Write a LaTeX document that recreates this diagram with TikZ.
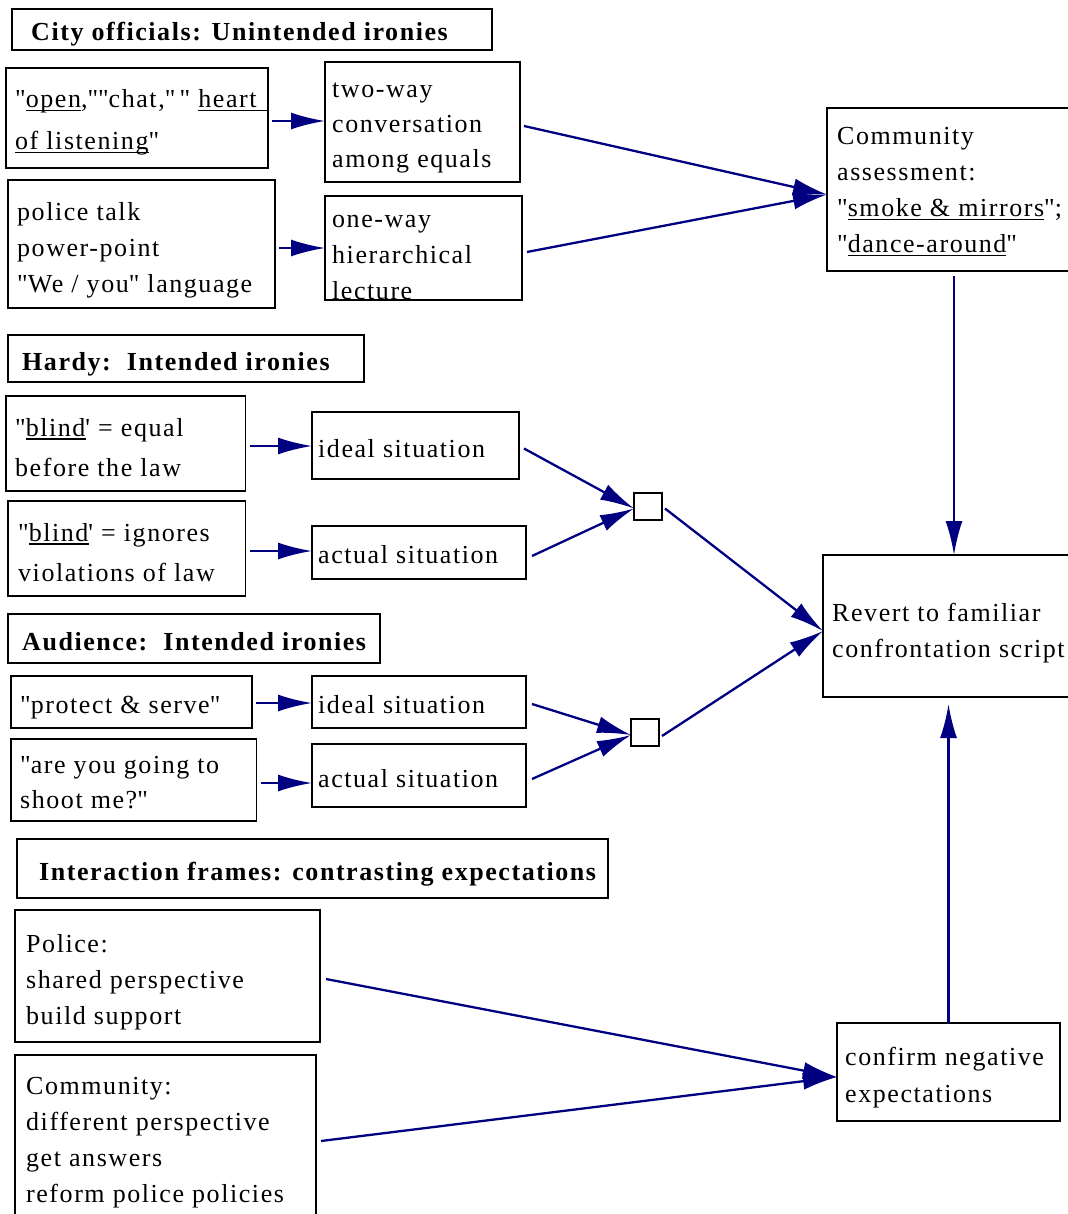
\documentclass[tikz,border=0pt]{standalone}
\usepackage{fontspec}
\setmainfont[LetterSpace=6]{Liberation Serif}
\usetikzlibrary{arrows.meta,calc}
\definecolor{navyc}{RGB}{0,0,128}
\newcommand\myul[1]{\setbox0\hbox{#1}\rlap{\rule[-3.5pt]{\wd0}{1.1pt}}\box0}
\newcommand\qq{\textquotedbl}
\begin{document}
\begin{tikzpicture}[x=1pt,y=-1pt,
  bx/.style={draw=black, line width=1.9pt, anchor=north west, inner sep=0pt, outer sep=0pt},
  tx/.style={anchor=base west, inner sep=0pt, align=left, font=\fontsize{26}{36}\selectfont},
  ttl/.style={anchor=base west, inner sep=0pt, align=left, font=\fontsize{26}{36}\selectfont\bfseries},
  jn/.style={draw=black, line width=1.9pt, minimum width=28pt, minimum height=27pt, inner sep=0pt, outer sep=0pt, anchor=north west},
  arr/.style={draw=navyc, line width=2.3pt, -{Latex[length=34pt,width=17pt]}},
]
\useasboundingbox (0,0) rectangle (1067,1214);

% City officials
\node[bx, minimum width=480pt, minimum height=41pt] (T1) at (12,9) {};
\node[ttl] (T1t) at (31,41) {City officials: Unintended ironies};
\node[bx, minimum width=262pt, minimum height=100pt] (B1) at (6,68) {};
\node[tx] (B1t) at (15,150) {\qq\myul{open},\qq\qq chat,\qq\,\qq\ \myul{heart\hspace{10pt}}\\[6pt]\myul{of listening}\qq};
\node[bx, minimum width=267pt, minimum height=128pt] (B2) at (8,180) {};
\node[tx] (B2t) at (17,293) {police talk\\power-point\\\qq We / you\qq\ language};
\node[bx, minimum width=195pt, minimum height=120pt] (C1) at (325,62) {};
\node[tx] (C1t) at (332,168) {two-way\\[-1pt]conversation\\[-1pt]among equals};
\node[bx, minimum width=197pt, minimum height=104pt] (C2) at (325,196) {};
\node[tx] (C2t) at (332,300) {one-way\\hierarchical\\lecture};
\node[bx, minimum width=260pt, minimum height=163pt] (CA) at (827,108) {};
\node[tx] (CAt) at (837,253) {Community\\assessment:\\\qq\myul{smoke \& mirrors}\qq;\\\qq\myul{dance-around}\qq};

% Hardy
\node[bx, minimum width=356pt, minimum height=47pt] (T2) at (8,335) {};
\node[ttl] (T2t) at (22,370) {Hardy:\ \ Intended ironies};
\node[bx, minimum width=239.5pt, minimum height=95pt] (H1) at (6,396) {};
\node[tx] (H1t) at (15,476) {\qq\myul{blind}\textquotesingle{} = equal\\[4pt]before the law};
\node[bx, minimum width=237.5pt, minimum height=95pt] (H2) at (8,501) {};
\node[tx] (H2t) at (18,581) {\qq\myul{blind}\textquotesingle{} = ignores\\[4pt]violations of law};
\node[bx, minimum width=207pt, minimum height=67pt] (I1) at (312,412) {};
\node[tx] (I1t) at (318,457) {ideal situation};
\node[bx, minimum width=214pt, minimum height=53pt] (A1) at (312,526) {};
\node[tx] (A1t) at (318,563) {actual situation};
\node[jn] (J1) at (634,493) {};

% Audience
\node[bx, minimum width=372pt, minimum height=49pt] (T3) at (8,614) {};
\node[ttl] (T3t) at (22,650) {Audience:\ \ Intended ironies};
\node[bx, minimum width=241pt, minimum height=52pt] (P1) at (11,676) {};
\node[tx] (P1t) at (20,713) {\qq protect \& serve\qq};
\node[bx, minimum width=245.5pt, minimum height=82pt] (P2) at (11,739) {};
\node[tx] (P2t) at (20,808) {\qq are you going to\\[-1pt]shoot me?\qq};
\node[bx, minimum width=214pt, minimum height=52pt] (I2) at (312,676) {};
\node[tx] (I2t) at (318,713) {ideal situation};
\node[bx, minimum width=214pt, minimum height=63pt] (A2) at (312,744) {};
\node[tx] (A2t) at (318,787) {actual situation};
\node[jn] (J2) at (631,719) {};

\node[bx, minimum width=262pt, minimum height=142pt] (R) at (823,555) {};
\node[tx] (Rt) at (832,657) {Revert to familiar\\confrontation script};

% Interaction frames
\node[bx, minimum width=591pt, minimum height=59pt] (T4) at (17,839) {};
\node[ttl] (T4t) at (39,880) {Interaction frames: contrasting expectations};
\node[bx, minimum width=305pt, minimum height=132pt] (PO) at (15,910) {};
\node[tx] (POt) at (26,1024) {Police:\\shared perspective\\build support};
\node[bx, minimum width=301pt, minimum height=175pt] (CO) at (15,1055) {};
\node[tx] (COt) at (26,1202) {Community:\\different perspective\\get answers\\reform police policies};
\node[bx, minimum width=223pt, minimum height=98pt] (CN) at (837,1023) {};
\node[tx] (CNt) at (845,1102) {confirm negative\\[1pt]expectations};

% connectors
\coordinate (b1s) at ($(B1.east)+(4,3)$);
\draw[arr] (b1s) -- (b1s -| C1.west);
\coordinate (b2s) at ($(B2.east)+(4,4)$);
\draw[arr] (b2s) -- (b2s -| C2.west);
\coordinate (cae) at ($(CA.west)+(0,5)$);
\draw[arr] ($(C1.east)+(4,4)$) -- (cae);
\draw[arr] ($(C2.east)+(5,4)$) -- (cae);
\coordinate (cas) at ($(CA.south -| R.north)+(0,5)$);
\draw[arr] (cas) -- (R.north);

\coordinate (h1s) at ($(H1.east)+(4,2.5)$);
\draw[arr] (h1s) -- (h1s -| I1.west);
\coordinate (h2s) at ($(H2.east)+(4,2.5)$);
\draw[arr] (h2s) -- (h2s -| A1.west);
\coordinate (j1e) at ($(J1.west)+(0,2)$);
\draw[arr] ($(I1.east)+(5,3)$) -- (j1e);
\draw[arr] ($(A1.east)+(6,3.5)$) -- (j1e);
\coordinate (re) at ($(R.west)+(0,5)$);
\draw[arr] ($(J1.east)+(3,2)$) -- (re);

\coordinate (p1s) at ($(P1.east)+(4,1)$);
\draw[arr] (p1s) -- (p1s -| I2.west);
\coordinate (p2s) at ($(P2.east)+(4,3)$);
\draw[arr] (p2s) -- (p2s -| A2.west);
\coordinate (j2e) at ($(J2.west)+(0,2.5)$);
\draw[arr] ($(I2.east)+(6,2)$) -- (j2e);
\draw[arr] ($(A2.east)+(6,3.5)$) -- (j2e);
\draw[arr] ($(J2.east)+(3,3.5)$) -- (re);

\coordinate (rb) at ($(CN.north |- R.south)+(0,7)$);
\draw[arr] (CN.north) -- (rb);
\coordinate (cne) at ($(CN.west)+(0,5)$);
\draw[arr] ($(PO.east)+(6,3)$) -- (cne);
\draw[arr] ($(CO.east)+(5,-1.5)$) -- (cne);
\end{tikzpicture}
\end{document}
